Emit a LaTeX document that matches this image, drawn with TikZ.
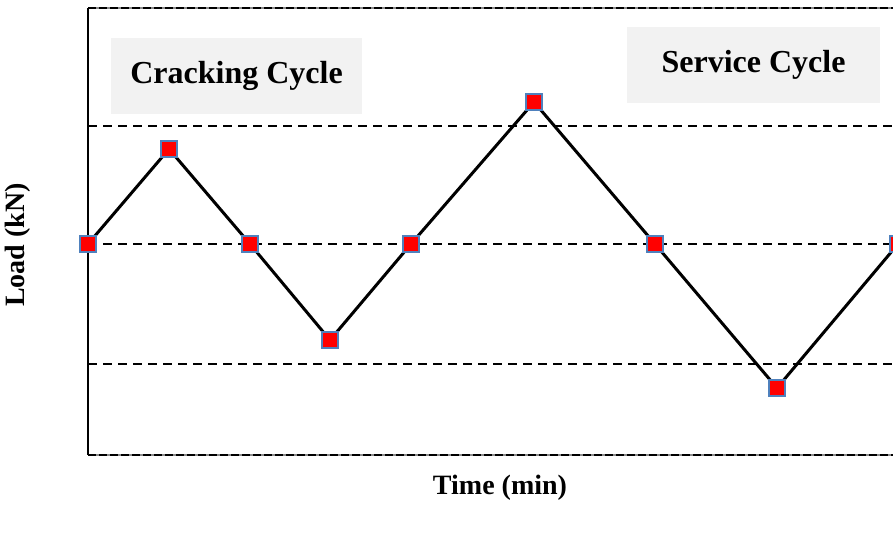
\documentclass[tikz,border=0pt]{standalone}
\usepackage{fontspec}
\setmainfont{Liberation Serif}
\usepackage{xcolor}
\usetikzlibrary{positioning}
\definecolor{boxgray}{RGB}{242,242,242}
\definecolor{markred}{RGB}{255,0,0}
\definecolor{markedge}{RGB}{79,129,189}
\tikzset{
  frame/.style={line width=2pt, black},
  gridline/.style={line width=1.8pt, black, dash pattern=on 9pt off 6pt},
  loadline/.style={line width=3pt, black},
  marker/.style={rectangle, draw=markedge, fill=markred, line width=1.5pt,
                 minimum size=16pt, inner sep=0pt},
  cyclebox/.style={rectangle, fill=boxgray, font=\bfseries\fontsize{32}{36}\selectfont,
                   minimum height=76pt, inner sep=0pt},
  axislbl/.style={font=\bfseries\fontsize{28}{32}\selectfont},
}

\begin{document}
\begin{tikzpicture}[x=1pt, y=-1pt]
  \useasboundingbox (0,0) rectangle (893,533);
  \clip (0,0) rectangle (893,533);

  % ---- frame ----
  \draw[frame] (88,8) -- (88,455);
  \draw[line width=2pt, black!45] (88,8) -- (893,8) (88,455) -- (893,455);
  \draw[line width=2pt, black, dash pattern=on 8pt off 3pt] (88,8) -- (893,8) (88,455) -- (893,455);

  % ---- load levels ----
  \draw[gridline] (88,126) -- (893,126);
  \draw[gridline] (88,244) -- (893,244);
  \draw[gridline] (88,364) -- (893,364);

  % ---- labels ----
  \node[cyclebox, minimum width=251pt] (crack) at (236.5,76) {Cracking Cycle};
  \node[cyclebox, minimum width=253pt] (serv) at (753.5,65) {Service Cycle};
  \node[axislbl, rotate=90] (ylbl) at (18,245) {Load (kN)};
  \node[axislbl] (xlbl) at (500,488) {Time (min)};

  % ---- load history ----
  \coordinate (p0) at (88,244);
  \coordinate (p1) at (169,149);
  \coordinate (p2) at (250,244);
  \coordinate (p3) at (330,340);
  \coordinate (p4) at (411,244);
  \coordinate (p5) at (534,102);
  \coordinate (p6) at (655,244);
  \coordinate (p7) at (777,388);
  \coordinate (p8) at (898,244);
  \draw[loadline, line join=round] (p0) -- (p1) -- (p2) -- (p3) -- (p4) -- (p5) -- (p6) -- (p7) -- (p8);
  \foreach \p in {p0,p1,p2,p3,p4,p5,p6,p7,p8}
    \node[marker] at (\p) {};
\end{tikzpicture}
\end{document}
